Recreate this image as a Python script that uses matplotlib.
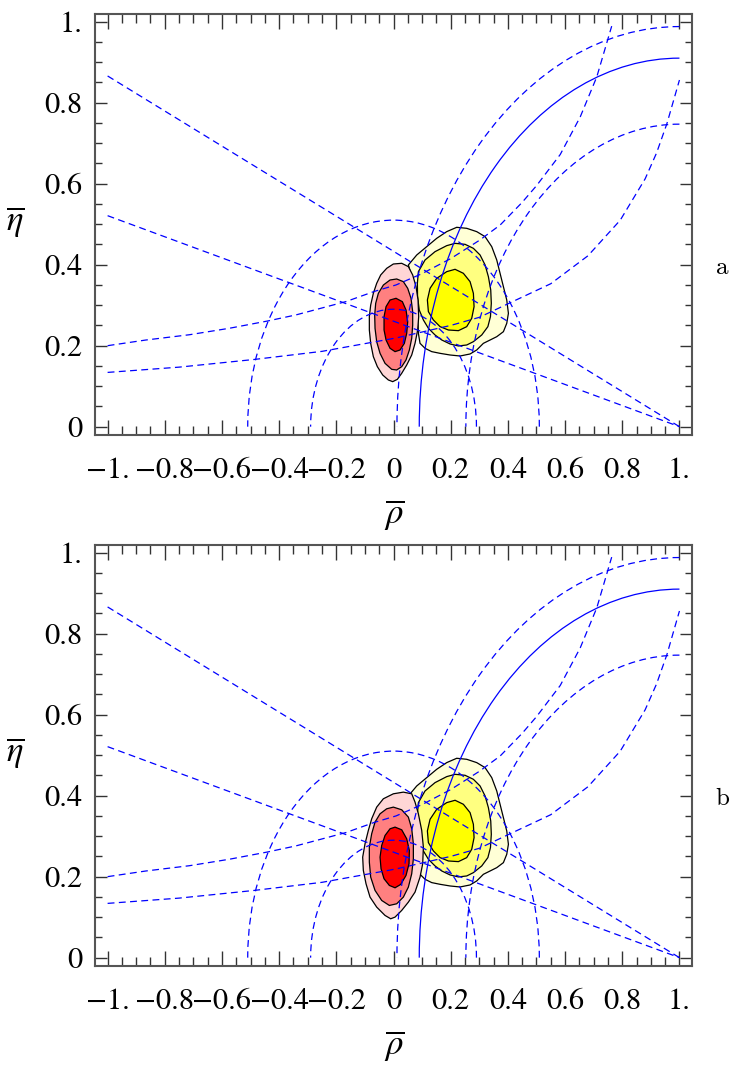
import matplotlib.pyplot as plt
from matplotlib.patches import Arc, Polygon

plt.rcParams['font.family'] = ['STIXGeneral', 'DejaVu Serif']
plt.rcParams['mathtext.fontset'] = 'stix'
plt.rcParams['axes.unicode_minus'] = True

# axis ticks
rho_ticks = [-1.0, -0.8, -0.6, -0.4, -0.2, 0.0, 0.2, 0.4, 0.6, 0.8, 1.0]
rho_labels = ['\u22121.', '\u22120.8', '\u22120.6', '\u22120.4', '\u22120.2', '0',
              '0.2', '0.4', '0.6', '0.8', '1.']
eta_ticks = [0.0, 0.2, 0.4, 0.6, 0.8, 1.0]
eta_labels = ['0', '0.2', '0.4', '0.6', '0.8', '1.']

# sin2beta lines, from rho=-1 down to the point (1, 0)
beta_rho = [-1.0, 1.0]
beta_eta_wide = [0.866, 0.0]
beta_eta_narrow = [0.521, 0.0]

# circles around (0,0) and around (1,0)
rb_radii = [0.51, 0.29]
rt_radii_dashed = [0.988, 0.747]
rt_radius_solid = 0.91

# eps_K hyperbolas
epsk_hi_rho = [-1.0, -0.866, -0.714, -0.574, -0.440, -0.341, -0.166, -0.067, 0.009,
               0.10, 0.20, 0.30, 0.373, 0.45, 0.50, 0.583, 0.653, 0.711, 0.763]
epsk_hi_eta = [0.200, 0.214, 0.227, 0.243, 0.261, 0.276, 0.309, 0.334, 0.350,
               0.378, 0.415, 0.460, 0.498, 0.554, 0.595, 0.672, 0.765, 0.864, 0.989]
epsk_lo_rho = [-1.0, -0.75, -0.487, -0.25, 0.009, 0.2, 0.3, 0.408, 0.55, 0.68,
               0.793, 0.88, 0.92, 0.956, 1.0]
epsk_lo_eta = [0.134, 0.147, 0.166, 0.186, 0.219, 0.250, 0.270, 0.306, 0.353, 0.422,
               0.51, 0.612, 0.676, 0.748, 0.856]

# yellow region (same in both panels): outer, middle, inner
yellow_outer = [(0.0519, 0.3993), (0.0811, 0.4239), (0.1160, 0.4445), (0.1510, 0.4651),
                (0.1860, 0.4816), (0.2210, 0.4923), (0.2560, 0.4898), (0.2910, 0.4816),
                (0.3202, 0.4692), (0.3435, 0.4445), (0.3610, 0.4116), (0.3726, 0.3787),
                (0.3843, 0.3457), (0.3960, 0.3128), (0.4018, 0.2799), (0.3960, 0.2552),
                (0.3843, 0.2346), (0.3610, 0.2222), (0.3377, 0.2140), (0.3143, 0.2058),
                (0.2910, 0.1894), (0.2677, 0.1795), (0.2327, 0.1745), (0.1977, 0.1770),
                (0.1627, 0.1811), (0.1335, 0.1853), (0.1102, 0.1935), (0.0927, 0.2058),
                (0.0869, 0.2305), (0.0845, 0.2717), (0.0787, 0.3128), (0.0670, 0.3540),
                (0.0554, 0.3910)]
yellow_mid = [(0.0834, 0.3540), (0.0869, 0.3828), (0.1102, 0.4116), (0.1452, 0.4322),
              (0.1860, 0.4470), (0.2152, 0.4527), (0.2502, 0.4503), (0.2793, 0.4404),
              (0.3027, 0.4239), (0.3202, 0.3993), (0.3318, 0.3704), (0.3400, 0.3375),
              (0.3420, 0.3046), (0.3390, 0.2717), (0.3300, 0.2470), (0.3085, 0.2264),
              (0.2793, 0.2099), (0.2560, 0.2017), (0.2269, 0.1993), (0.1977, 0.2042),
              (0.1685, 0.2141), (0.1452, 0.2264), (0.1219, 0.2429), (0.1044, 0.2635),
              (0.0900, 0.2881), (0.0840, 0.3210)]
yellow_in = [(0.2152, 0.3886), (0.2443, 0.3787), (0.2677, 0.3581), (0.2793, 0.3293),
             (0.2817, 0.2964), (0.2735, 0.2676), (0.2560, 0.2470), (0.2269, 0.2371),
             (0.1918, 0.2387), (0.1627, 0.2470), (0.1394, 0.2635), (0.1219, 0.2840),
             (0.1184, 0.3128), (0.1277, 0.3416), (0.1510, 0.3663), (0.1860, 0.3828)]

# red region, panel a
red_a_outer = [(0.0519, 0.3952), (0.0286, 0.4034), (-0.0006, 0.4017), (-0.0239, 0.3910),
               (-0.0449, 0.3746), (-0.0589, 0.3540), (-0.0706, 0.3293), (-0.0799, 0.3004),
               (-0.0846, 0.2717), (-0.0846, 0.2388), (-0.0799, 0.2058), (-0.0706, 0.1729),
               (-0.0566, 0.1482), (-0.0379, 0.1276), (-0.0181, 0.1153), (-0.0029, 0.1112),
               (0.0134, 0.1169), (0.0286, 0.1318), (0.0461, 0.1523), (0.0636, 0.1770),
               (0.0752, 0.2058), (0.0845, 0.2388), (0.0880, 0.2717), (0.0857, 0.3128),
               (0.0787, 0.3457), (0.0670, 0.3746)]
red_a_mid = [(0.0111, 0.3647), (0.0344, 0.3581), (0.0496, 0.3416), (0.0612, 0.3169),
             (0.0670, 0.2840), (0.0670, 0.2511), (0.0636, 0.2182), (0.0554, 0.1893),
             (0.0437, 0.1647), (0.0286, 0.1482), (0.0111, 0.1400), (-0.0064, 0.1416),
             (-0.0297, 0.1564), (-0.0472, 0.1811), (-0.0589, 0.2099), (-0.0647, 0.2429),
             (-0.0659, 0.2758), (-0.0624, 0.3046), (-0.0531, 0.3293), (-0.0355, 0.3498),
             (-0.0122, 0.3622)]
red_a_in = [(0.0087, 0.3170), (0.0309, 0.3087), (0.0437, 0.2881), (0.0496, 0.2593),
            (0.0461, 0.2305), (0.0379, 0.2058), (0.0228, 0.1893), (0.0053, 0.1853),
            (-0.0122, 0.1935), (-0.0262, 0.2141), (-0.0332, 0.2388), (-0.0332, 0.2717),
            (-0.0262, 0.2964), (-0.0122, 0.3128)]

# red region, panel b
red_b_outer = [(0.0636, 0.4046), (0.0344, 0.4087), (-0.0006, 0.4046), (-0.0356, 0.3923),
               (-0.0589, 0.3717), (-0.0764, 0.3429), (-0.0881, 0.3141), (-0.0997, 0.2812),
               (-0.1079, 0.2482), (-0.1056, 0.2153), (-0.0962, 0.1824), (-0.0822, 0.1495),
               (-0.0589, 0.1248), (-0.0297, 0.1042), (-0.0099, 0.0960), (0.0053, 0.1001),
               (0.0286, 0.1166), (0.0519, 0.1371), (0.0752, 0.1618), (0.0927, 0.1989),
               (0.1020, 0.2318), (0.1044, 0.2729), (0.0986, 0.3141), (0.0869, 0.3552),
               (0.0752, 0.3840)]
red_b_mid = [(-0.0006, 0.3717), (0.0286, 0.3651), (0.0519, 0.3470), (0.0636, 0.3182),
             (0.0694, 0.2812), (0.0694, 0.2441), (0.0636, 0.2071), (0.0519, 0.1742),
             (0.0344, 0.1495), (0.0111, 0.1330), (-0.0146, 0.1289), (-0.0414, 0.1412),
             (-0.0647, 0.1660), (-0.0799, 0.1989), (-0.0846, 0.2359), (-0.0846, 0.2729),
             (-0.0764, 0.3059), (-0.0647, 0.3347), (-0.0472, 0.3552), (-0.0239, 0.3676)]
red_b_in = [(0.0053, 0.3223), (0.0286, 0.3157), (0.0461, 0.2935), (0.0554, 0.2647),
            (0.0542, 0.2318), (0.0437, 0.2030), (0.0251, 0.1808), (0.0053, 0.1725),
            (-0.0146, 0.1783), (-0.0332, 0.1948), (-0.0437, 0.2194), (-0.0472, 0.2482),
            (-0.0414, 0.2770), (-0.0297, 0.3017), (-0.0122, 0.3182)]

yellow_colors = ['#ffffd6', '#ffff80', '#ffff00']
red_colors = ['#ffd6d6', '#ff8080', '#ff0000']

dash = (0, (5.5, 3.5))
blue = '#0000ff'


def draw_panel(ax, red_levels, tag):
    for verts, col in zip([yellow_outer, yellow_mid, yellow_in], yellow_colors):
        ax.add_patch(Polygon(verts, closed=True, facecolor=col, edgecolor='black', lw=0.9, zorder=1))
    for verts, col in zip(red_levels, red_colors):
        ax.add_patch(Polygon(verts, closed=True, facecolor=col, edgecolor='black', lw=0.9, zorder=1))

    ax.plot(beta_rho, beta_eta_wide, color=blue, lw=0.9, ls=dash, zorder=3)
    ax.plot(beta_rho, beta_eta_narrow, color=blue, lw=0.9, ls=dash, zorder=3)
    ax.plot(epsk_hi_rho, epsk_hi_eta, color=blue, lw=0.9, ls=dash, zorder=3)
    ax.plot(epsk_lo_rho, epsk_lo_eta, color=blue, lw=0.9, ls=dash, zorder=3)
    for r in rb_radii:
        ax.add_patch(Arc((0, 0), 2 * r, 2 * r, theta1=0, theta2=180,
                         color=blue, lw=0.9, ls=dash, zorder=3))
    for r in rt_radii_dashed:
        ax.add_patch(Arc((1, 0), 2 * r, 2 * r, theta1=90, theta2=180,
                         color=blue, lw=0.9, ls=dash, zorder=3))
    ax.add_patch(Arc((1, 0), 2 * rt_radius_solid, 2 * rt_radius_solid, theta1=90, theta2=180,
                     color=blue, lw=0.9, zorder=3))

    ax.set_xlim(-1.044, 1.043)
    ax.set_ylim(-0.0205, 1.019)
    ax.set_xticks(rho_ticks)
    ax.set_xticklabels(rho_labels)
    ax.set_yticks(eta_ticks)
    ax.set_yticklabels(eta_labels)
    ax.set_xticks([-1 + 0.05 * i for i in range(41)], minor=True)
    ax.set_yticks([0.05 * i for i in range(21)], minor=True)
    ax.tick_params(which='both', direction='in', top=True, right=True,
                   color='#333333', width=1.0, labelsize=22)
    ax.tick_params(axis='x', which='major', length=11, pad=16)
    ax.tick_params(axis='x', which='minor', length=6.5)
    ax.tick_params(axis='y', which='major', length=8.5, pad=9)
    ax.tick_params(axis='y', which='minor', length=5)
    for s in ax.spines.values():
        s.set_color('#555555')
        s.set_linewidth(1.5)

    ax.text(-0.134, 0.506, r'$\overline{\eta}$', transform=ax.transAxes, fontsize=25,
            ha='center', va='center')
    ax.text(0.501, -0.19, r'$\overline{\rho}$', transform=ax.transAxes, fontsize=25,
            ha='center', va='center')
    ax.text(1.051, 0.397, tag, transform=ax.transAxes, fontsize=18,
            family=['cmr10', 'DejaVu Serif'], ha='center', va='center')


fig = plt.figure(figsize=(7.31, 10.69), dpi=100)
ax_a = fig.add_axes([0.130, 0.5931, 0.8163, 0.3938])
ax_b = fig.add_axes([0.130, 0.0964, 0.8163, 0.3938])
draw_panel(ax_a, [red_a_outer, red_a_mid, red_a_in], 'a')
draw_panel(ax_b, [red_b_outer, red_b_mid, red_b_in], 'b')

fig.savefig('out.png', dpi=100)
